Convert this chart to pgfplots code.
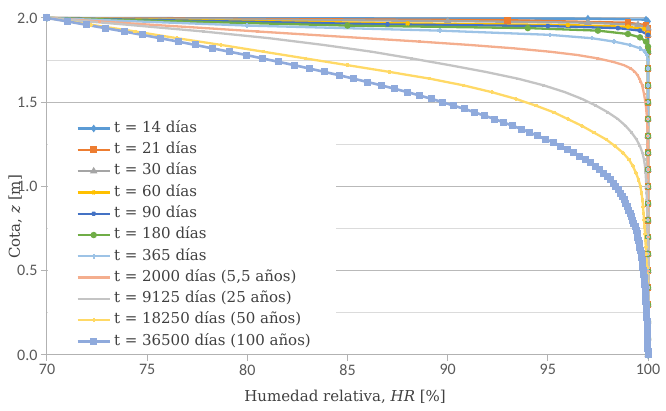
\documentclass[border=0pt]{standalone}
\usepackage{pgfplots}
\pgfplotsset{compat=1.18}
\usepackage{fontspec}
\setmainfont{DejaVu Serif}
\newfontfamily\tickfont{Carlito}
\definecolor{c14}{HTML}{5B9BD5}
\definecolor{c21}{HTML}{ED7D31}
\definecolor{c30}{HTML}{A5A5A5}
\definecolor{c60}{HTML}{FFC000}
\definecolor{c90}{HTML}{4472C4}
\definecolor{c180}{HTML}{70AD47}
\definecolor{c365}{HTML}{9DC3E6}
\definecolor{c2000}{HTML}{F4AE8E}
\definecolor{c9125}{HTML}{C4C4C4}
\definecolor{c18250}{HTML}{FFD966}
\definecolor{c36500}{HTML}{8FAADC}
\definecolor{tickgray}{HTML}{595959}
\definecolor{labgray}{HTML}{404040}
\begin{document}
\begin{tikzpicture}
\begin{axis}[
 name=ax, at={(0,0)}, anchor=south west,
 scale only axis, width=601pt, height=337pt,
 xmin=70, xmax=100, ymin=0, ymax=2,
 xtick={70,75,...,100}, ytick={0,0.5,...,2},
 minor y tick num=1,
 ymajorgrids, yminorgrids,
 major grid style={draw=gray!55, line width=1pt},
 minor grid style={draw=gray!28, line width=1pt},
 axis x line*=bottom, axis y line*=left,
 axis line style={draw=gray!60, line width=1pt},
 tick align=outside, major tick length=6pt, minor tick length=0pt,
 tick style={draw=gray!60, line width=1pt},
 tick label style={font=\tickfont\fontsize{16}{18}\selectfont, text=tickgray},
 /pgf/number format/assume math mode=true,
 yticklabel style={/pgf/number format/.cd, fixed, fixed zerofill, precision=1},
 xticklabel style={/pgf/number format/.cd, fixed, precision=0},
 xlabel={Humedad relativa, \textit{HR} [\%]},
 ylabel={Cota, \textit{z} [m]},
 label style={font=\fontsize{15}{18}\selectfont, text=labgray},
 xlabel style={at={(axis description cs:0.496,-0.125)}, anchor=center},
 ylabel style={at={(axis description cs:-0.053,0.41)}, anchor=center},
 clip=false,
 legend cell align=left,
 legend style={at={(axis description cs:0.002,0.709)}, anchor=north west, draw=none, fill=white,
   font=\fontsize{15}{18}\selectfont, text=labgray, row sep=4.8pt, inner xsep=8pt, inner ysep=4pt,
   nodes={inner sep=1pt, text height=11pt, text depth=3.5pt}},
 legend image code/.code={\path (0pt,-2pt) (54pt,2pt); \draw[mark repeat=2,mark phase=2,#1] plot coordinates {(20pt,0pt)(36pt,0pt)(52pt,0pt)};},
]
\fill[white] (axis cs:70.04,0.012) rectangle (axis cs:84.43,1.44);
% 14 dias
\addplot[c14, line width=2.3pt, mark=diamond*, mark size=2pt, mark options={solid}] coordinates {
(70,2.00) (97,1.996) (99.9,1.99) (100,1.98) (100,1.9) (100,1.8) (100,1.7) (100,1.6) (100,1.5) (100,1.4) (100,1.3) (100,1.2) (100,1.1) (100,1.0) (100,0.9) (100,0.8) (100,0.7) (100,0.6) (100,0.5) (100,0.4) (100,0.3) (100,0.2) (100,0.1) (100,0)};
\addlegendentry{t = 14 días}
% 21 dias
\addplot[c21, line width=2.3pt, mark=square*, mark size=2.2pt, mark options={solid}] coordinates {
(70,2.00) (93,1.987) (99,1.972) (99.9,1.958) (100,1.94) (100,1.9) (100,1.8) (100,1.7) (100,1.6) (100,1.5) (100,1.4) (100,1.3) (100,1.2) (100,1.1) (100,1.0) (100,0.9) (100,0.8) (100,0.7) (100,0.6) (100,0.5) (100,0.4) (100,0.3) (100,0.2) (100,0.1) (100,0)};
\addlegendentry{t = 21 días}
% 30 dias
\addplot[c30, line width=2.3pt, mark=triangle*, mark size=2pt, mark options={solid}] coordinates {
(70,2.00) (90,1.982) (97,1.972) (99.5,1.96) (100,1.94) (100,1.9) (100,1.8) (100,1.7) (100,1.6) (100,1.5) (100,1.4) (100,1.3) (100,1.2) (100,1.1) (100,1.0) (100,0.9) (100,0.8) (100,0.7) (100,0.6) (100,0.5) (100,0.4) (100,0.3) (100,0.2) (100,0.1) (100,0)};
\addlegendentry{t = 30 días}
% 60 dias
\addplot[c60, line width=2.3pt, mark=x, mark size=2.2pt, mark options={solid}] coordinates {
(70,2.00) (88,1.968) (96,1.958) (99,1.948) (99.8,1.935) (100,1.91) (100,1.8) (100,1.7) (100,1.6) (100,1.5) (100,1.4) (100,1.3) (100,1.2) (100,1.1) (100,1.0) (100,0.9) (100,0.8) (100,0.7) (100,0.6) (100,0.5) (100,0.4) (100,0.3) (100,0.2) (100,0.1) (100,0)};
\addlegendentry{t = 60 días}
% 90 dias
\addplot[c90, line width=2.3pt, mark=asterisk, mark size=2.2pt, mark options={solid}] coordinates {
(70,2.00) (87,1.962) (95,1.952) (98.5,1.94) (99.6,1.925) (100,1.9) (100,1.8) (100,1.7) (100,1.6) (100,1.5) (100,1.4) (100,1.3) (100,1.2) (100,1.1) (100,1.0) (100,0.9) (100,0.8) (100,0.7) (100,0.6) (100,0.5) (100,0.4) (100,0.3) (100,0.2) (100,0.1) (100,0)};
\addlegendentry{t = 90 días}
% 180 dias
\addplot[c180, line width=2.3pt, mark=*, mark size=2pt, mark options={solid}] coordinates {
(70,2.00) (85,1.955) (94,1.94) (97.5,1.925) (99.0,1.905) (99.6,1.885) (99.9,1.86) (100,1.83) (100,1.8) (100,1.7) (100,1.6) (100,1.5) (100,1.4) (100,1.3) (100,1.2) (100,1.1) (100,1.0) (100,0.9) (100,0.8) (100,0.7) (100,0.6) (100,0.5) (100,0.4) (100,0.3) (100,0.2) (100,0.1) (100,0)};
\addlegendentry{t = 180 días}
% 365 dias
\addplot[c365, line width=2.3pt, mark=+, mark size=2.2pt, mark options={solid}] coordinates {
(70,2.00) (80,1.955) (89.6,1.925) (95.1,1.90) (97.2,1.88) (98.3,1.86) (99.1,1.84) (99.6,1.82) (99.85,1.80) (99.95,1.78) (100,1.75) (100,1.7) (100,1.6) (100,1.5) (100,1.4) (100,1.3) (100,1.2) (100,1.1) (100,1.0) (100,0.9) (100,0.8) (100,0.7) (100,0.6) (100,0.5) (100,0.4) (100,0.3) (100,0.2) (100,0.1) (100,0)};
\addlegendentry{t = 365 días}
% 2000 dias
\addplot[c2000, line width=2.3pt, mark=-, mark size=1.5pt, mark options={solid}] coordinates {
(70,2.00) (72.6,1.98) (75.2,1.96) (77.9,1.94) (80.5,1.92) (83.2,1.90) (85.9,1.88) (88.6,1.86) (91.1,1.84) (93.3,1.82) (95.1,1.80) (96.5,1.78) (97.5,1.76) (98.25,1.74) (98.8,1.72) (99.15,1.70) (99.35,1.68) (99.48,1.66) (99.57,1.64) (99.65,1.62) (99.71,1.60) (99.8,1.55) (99.87,1.50) (99.92,1.45) (99.95,1.40) (99.97,1.35) (99.98,1.30) (99.99,1.25) (100,1.20) (100,1.1) (100,1.0) (100,0.9) (100,0.8) (100,0.7) (100,0.6) (100,0.5) (100,0.4) (100,0.3) (100,0.2) (100,0.1) (100,0)};
\addlegendentry{t = 2000 días (5,5 años)}
% 9125 dias
\addplot[c9125, line width=2.3pt, mark=-, mark size=1.5pt, mark options={solid}] coordinates {
(70,2.00) (74.0,1.96) (77.8,1.92) (81.1,1.88) (83.8,1.84) (86.2,1.80) (88.2,1.76) (90.1,1.72) (91.9,1.68) (93.5,1.64) (94.8,1.60) (95.85,1.56) (96.7,1.52) (97.4,1.48) (98.0,1.44) (98.5,1.40) (98.88,1.36) (99.18,1.32) (99.42,1.28) (99.6,1.24) (99.72,1.20) (99.8,1.16) (99.85,1.12) (99.88,1.08) (99.9,1.04) (99.92,1.00) (99.93,0.96) (99.94,0.92) (99.95,0.88) (99.96,0.84) (99.97,0.80) (99.97,0.76) (99.98,0.72) (99.98,0.68) (99.99,0.64) (99.99,0.60) (100,0.56) (100,0.52) (100,0.48) (100,0.44) (100,0.40) (100,0.36) (100,0.32) (100,0.28) (100,0.24) (100,0.20) (100,0.16) (100,0.12) (100,0.08) (100,0.04) (100,0)};
\addlegendentry{t = 9125 días (25 años)}
% 18250 dias
\addplot[c18250, line width=2.3pt, mark=+, mark size=1.8pt, mark options={solid}] coordinates {
(70,2.00) (72.2,1.96) (74.4,1.92) (76.5,1.88) (78.7,1.84) (80.8,1.80) (82.9,1.76) (85.0,1.72) (87.1,1.68) (89.1,1.64) (90.8,1.60) (92.2,1.56) (93.4,1.52) (94.4,1.48) (95.3,1.44) (96.0,1.40) (96.7,1.36) (97.3,1.32) (97.9,1.28) (98.35,1.24) (98.75,1.20) (99.05,1.16) (99.25,1.12) (99.4,1.08) (99.53,1.04) (99.62,1.00) (99.68,0.96) (99.72,0.92) (99.75,0.88) (99.78,0.84) (99.8,0.80) (99.83,0.76) (99.85,0.72) (99.87,0.68) (99.89,0.64) (99.91,0.60) (99.92,0.56) (99.94,0.52) (99.95,0.48) (99.96,0.44) (99.97,0.40) (99.98,0.36) (99.98,0.32) (99.99,0.28) (99.99,0.24) (100,0.20) (100,0.16) (100,0.12) (100,0.08) (100,0.04) (100,0)};
\addlegendentry{t = 18250 días (50 años)}
% 36500 dias
\addplot[c36500, line width=2.6pt, mark=square*, mark size=2.2pt, mark options={solid}] coordinates {
(70.0,2.00) (71.0,1.98) (71.95,1.96) (72.9,1.94) (73.85,1.92) (74.75,1.90) (75.65,1.88) (76.55,1.86) (77.4,1.84) (78.25,1.82) (79.1,1.80) (79.95,1.78) (80.75,1.76) (81.55,1.74) (82.35,1.72) (83.1,1.70) (83.85,1.68) (84.6,1.66) (85.3,1.64) (86.0,1.62) (86.7,1.60) (87.35,1.58) (88.0,1.56) (88.6,1.54) (89.2,1.52) (89.75,1.50) (90.3,1.48) (90.85,1.46) (91.35,1.44) (91.85,1.42) (92.35,1.40) (92.8,1.38) (93.25,1.36) (93.7,1.34) (94.1,1.32) (94.5,1.30) (94.9,1.28) (95.3,1.26) (95.65,1.24) (95.98,1.22) (96.3,1.20) (96.6,1.18) (96.88,1.16) (97.14,1.14) (97.38,1.12) (97.6,1.10) (97.8,1.08) (97.98,1.06) (98.14,1.04) (98.28,1.02) (98.4,1.00) (98.52,0.98) (98.63,0.96) (98.73,0.94) (98.82,0.92) (98.9,0.90) (98.98,0.88) (99.05,0.86) (99.12,0.84) (99.18,0.82) (99.24,0.80) (99.3,0.78) (99.36,0.76) (99.41,0.74) (99.46,0.72) (99.5,0.70) (99.54,0.68) (99.57,0.66) (99.6,0.64) (99.63,0.62) (99.66,0.60) (99.68,0.58) (99.71,0.56) (99.73,0.54) (99.75,0.52) (99.77,0.50) (99.79,0.48) (99.8,0.46) (99.82,0.44) (99.83,0.42) (99.85,0.40) (99.86,0.38) (99.87,0.36) (99.88,0.34) (99.89,0.32) (99.9,0.30) (99.91,0.28) (99.92,0.26) (99.93,0.24) (99.94,0.22) (99.95,0.20) (99.95,0.18) (99.96,0.16) (99.97,0.14) (99.97,0.12) (99.98,0.10) (99.98,0.08) (99.99,0.06) (99.99,0.04) (100,0.02) (100,0.00)};
\addlegendentry{t = 36500 días (100 años)}
\end{axis}
\pgfresetboundingbox
\path (-47pt,-56pt) rectangle (619pt,355pt);
\end{tikzpicture}
\end{document}
